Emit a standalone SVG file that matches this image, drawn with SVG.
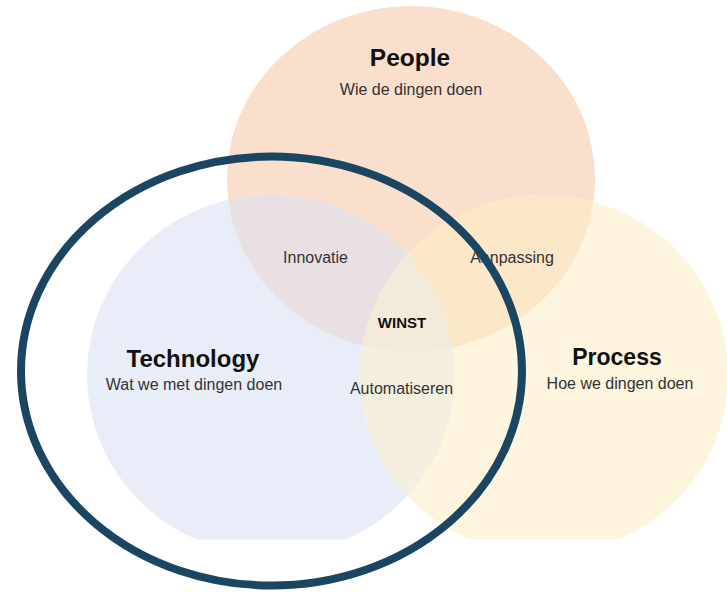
<svg xmlns="http://www.w3.org/2000/svg" xmlns:xlink="http://www.w3.org/1999/xlink" width="727" height="592" viewBox="0 0 727 592">
  <style>
    .title { font-family: "Liberation Sans", Arial, sans-serif; font-weight: bold; fill: #111111; text-anchor: middle; }
    .sub { font-family: "Liberation Sans", Arial, sans-serif; fill: #333333; text-anchor: middle; font-size: 16px; }
    .lbl { font-family: "Liberation Sans", Arial, sans-serif; fill: #333333; text-anchor: middle; font-size: 16px; }
  </style>
  <defs>
    <ellipse id="eP" cx="411" cy="179" rx="184" ry="173"/>
    <ellipse id="eT" cx="271" cy="375" rx="184" ry="180"/>
    <ellipse id="eR" cx="544" cy="375" rx="184" ry="180"/>
    <clipPath id="cBottom"><rect x="0" y="0" width="727" height="539.5"/></clipPath>
    <clipPath id="cP"><use xlink:href="#eP" href="#eP"/></clipPath>
    <clipPath id="cT"><use xlink:href="#eT" href="#eT"/></clipPath>
  </defs>
  <rect width="727" height="592" fill="#ffffff"/>
  <g clip-path="url(#cBottom)">
    <g id="people">
      <use href="#eP" xlink:href="#eP" fill="#F9DFCC"/>
    </g>
    <g id="technology">
      <use href="#eT" xlink:href="#eT" fill="#E8EDF7"/>
    </g>
    <g id="process">
      <use href="#eR" xlink:href="#eR" fill="#FDF5DD"/>
    </g>
    <g id="overlaps">
      <use id="innovatie-area" href="#eT" xlink:href="#eT" fill="#E9E0E4" clip-path="url(#cP)"/>
      <use id="aanpassing-area" href="#eR" xlink:href="#eR" fill="#FCE7C9" clip-path="url(#cP)"/>
      <use id="automatiseren-area" href="#eR" xlink:href="#eR" fill="#F4EFDF" clip-path="url(#cT)"/>
      <g clip-path="url(#cP)">
        <use id="winst-area" href="#eR" xlink:href="#eR" fill="#F3EBDA" clip-path="url(#cT)"/>
      </g>
    </g>
  </g>
  <g id="labels">
    <text class="title" x="410" y="66" font-size="24.5">People</text>
    <text class="sub" x="411" y="95">Wie de dingen doen</text>
    <text class="title" x="193" y="367" font-size="24">Technology</text>
    <text class="sub" x="194" y="390">Wat we met dingen doen</text>
    <text class="title" x="617" y="365" font-size="23">Process</text>
    <text class="sub" x="620" y="389">Hoe we dingen doen</text>
    <text class="lbl" x="315.5" y="263">Innovatie</text>
    <text class="lbl" x="512" y="263" font-size="15.5">Aanpassing</text>
    <text class="title" x="402" y="328" font-size="15">WINST</text>
    <text class="lbl" x="401.5" y="394">Automatiseren</text>
  </g>
  <g id="connectors">
    <ellipse id="focus-ring" cx="271.5" cy="371" rx="250.5" ry="214.5" fill="none" stroke="#1B4662" stroke-width="8"/>
  </g>
</svg>
